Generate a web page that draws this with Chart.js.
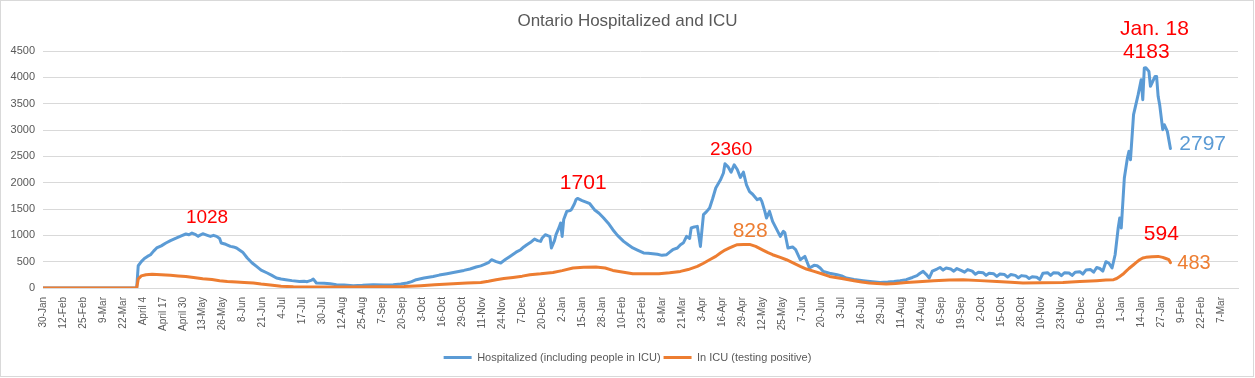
<!DOCTYPE html>
<html>
<head>
<meta charset="utf-8">
<script src="https://cdn.jsdelivr.net/npm/chart.js@4.4.0/dist/chart.umd.min.js"></script>
<style>
html,body{margin:0;padding:0;background:#fff;}
#wrap{position:relative;width:1255px;height:378px;}
canvas{display:block;}
</style>
</head>
<body>
<div id="wrap"><canvas id="c" width="1255" height="378"></canvas></div>
<script>
// ---- DATA ----
const chartTitle = "Ontario Hospitalized and ICU";
const seriesNames = ["Hospitalized (including people in ICU)", "In ICU (testing positive)"];
// x tick labels, one every 13 days starting 30-Jan-2020
const tickLabels = ["30-Jan","12-Feb","25-Feb","9-Mar","22-Mar","April 4","April 17","April 30","13-May","26-May","8-Jun","21-Jun","4-Jul","17-Jul","30-Jul","12-Aug","25-Aug","7-Sep","20-Sep","3-Oct","16-Oct","29-Oct","11-Nov","24-Nov","7-Dec","20-Dec","2-Jan","15-Jan","28-Jan","10-Feb","23-Feb","8-Mar","21-Mar","3-Apr","16-Apr","29-Apr","12-May","25-May","7-Jun","20-Jun","3-Jul","16-Jul","29-Jul","11-Aug","24-Aug","6-Sep","19-Sep","2-Oct","15-Oct","28-Oct","10-Nov","23-Nov","6-Dec","19-Dec","1-Jan","14-Jan","27-Jan","9-Feb","22-Feb","7-Mar"];
const tickStepDays = 13;
const axisMaxDay = 778;
const yTicks = [0,500,1000,1500,2000,2500,3000,3500,4000,4500];

// Hospitalized: day offset since 30-Jan-2020, value
const hospDays = [0,61,62,64,66,68,70,72,74,77,80,83,87,90,93,95,97,99,101,102,104,107,109,111,113,115,116,119,122,124,126,130,133,136,139,142,146,149,152,155,158,162,167,170,172,175,176,178,183,187,191,196,202,208,215,222,228,233,237,240,243,248,254,258,263,268,274,278,282,285,287,290,292,295,298,301,304,308,311,313,315,318,320,322,324,325,327,329,330,331,333,334,336,337,338,339,341,343,344,346,347,348,351,354,356,359,362,365,368,371,374,378,381,384,387,391,394,397,400,403,406,408,410,413,415,417,419,421,422,424,426,428,429,430,432,434,436,438,441,443,444,446,448,450,452,454,456,458,460,462,465,467,468,470,471,473,475,477,480,482,483,485,488,490,493,496,499,502,504,506,508,512,517,520,523,528,534,540,545,550,554,558,562,566,569,571,573,575,577,579,582,584,586,588,591,593,595,598,600,602,605,607,609,612,614,616,619,621,623,626,628,630,633,635,637,640,642,644,647,649,651,654,656,658,661,663,665,668,670,672,675,677,679,682,684,686,688,690,692,694,696,698,700,701,702,704,706,707,708,710,713,715,716,717,718,720,721,724,725,726,727,729,730,732,734];
const hospValues = [0,0,423,500,560,600,632,700,760,800,855,900,950,990,1025,1010,1044,1020,980,1000,1031,1000,980,1000,980,940,855,830,790,780,760,680,570,480,410,340,285,240,190,170,158,140,125,130,120,150,170,95,90,82,63,55,44,50,63,58,63,75,95,120,158,190,220,245,272,300,334,360,399,420,442,480,537,500,475,540,600,680,727,780,822,880,930,900,885,950,1012,990,980,760,900,1012,1150,1234,980,1300,1455,1470,1487,1600,1677,1701,1660,1626,1600,1487,1420,1329,1230,1107,1000,885,820,760,720,665,660,651,640,620,632,680,727,760,822,860,980,940,1139,1160,1170,790,1100,1392,1450,1519,1700,1899,2050,2184,2360,2300,2200,2340,2250,2100,2200,1960,1830,1780,1677,1700,1645,1450,1329,1455,1265,1150,980,1075,1050,760,780,727,537,600,380,430,423,380,315,280,252,230,190,160,139,120,106,115,125,140,158,200,234,280,315,260,190,320,360,390,340,380,360,320,370,330,300,350,320,260,300,290,240,280,270,220,265,255,205,255,240,195,235,225,180,215,205,160,280,290,240,290,285,235,290,285,240,300,310,265,340,350,300,390,370,320,500,470,380,632,1139,1329,1139,2089,2469,2594,2436,3291,3671,3956,3576,4178,4183,4113,3829,4018,4018,3639,3481,3006,3101,2974,2650];

// In ICU: day offset since 30-Jan-2020, value
const icuDays = [0,61,62,64,67,71,77,83,88,93,98,104,110,115,120,126,131,137,142,148,155,163,175,187,202,220,235,246,255,267,276,285,290,295,300,306,312,317,324,332,338,345,352,360,366,371,378,384,392,401,408,415,420,426,430,434,438,441,444,447,450,452,456,460,464,469,472,475,480,484,488,493,497,502,507,512,520,528,533,538,543,549,555,562,570,580,590,599,610,621,630,638,650,664,675,686,692,697,699,701,703,705,707,710,712,714,716,718,722,726,729,731,733,734];
const icuValues = [0,0,171,230,252,260,250,240,230,220,200,177,160,139,125,114,105,95,75,55,35,22,19,19,20,25,30,44,60,82,95,106,130,158,180,201,225,252,270,296,330,380,395,399,380,334,300,272,270,272,290,315,350,410,470,537,600,665,720,760,800,822,825,828,790,714,670,632,580,537,480,410,360,315,270,220,180,139,115,95,85,76,85,106,120,139,150,158,140,125,110,95,100,106,125,139,150,158,180,220,260,315,370,442,490,537,570,582,595,600,582,560,537,483];

// callout texts and where they sit (in data coordinates)
const calloutTexts = ["1028","1701","2360","828","Jan. 18","4183","2797","594","483"];
const calloutDays  = [106.8, 351.7, 448, 460.4, 723.6, 718.3, 739.8, 728.1, 738.5];
const calloutVals  = [1340, 1994, 2626, 1075, 4923, 4473, 2721, 1012, 461];

// ---- STYLE ----
const FONT = '"Liberation Sans", Arial, sans-serif';
const TEXT = '#595959';
const GRID = '#d9d9d9';
const BLUE = '#5b9bd5';
const ORANGE = '#ed7d31';
const RED = '#ff0000';
const calloutStyle = [
  {color:RED,size:19,align:'center'},{color:RED,size:21,align:'center'},{color:RED,size:19,align:'center'},
  {color:ORANGE,size:21,align:'center'},{color:RED,size:21,align:'center'},{color:RED,size:21,align:'center'},
  {color:BLUE,size:21,align:'left'},{color:RED,size:21,align:'center'},{color:ORANGE,size:20,align:'left'}
];

const toPoints = (xs, ys) => xs.map((d,i)=>({x:d,y:ys[i]}));

const calloutPlugin = {
  id:'callouts',
  afterDatasetsDraw(chart){
    const {ctx, scales:{x,y}} = chart;
    calloutTexts.forEach((t,i)=>{
      const s = calloutStyle[i];
      ctx.save();
      ctx.font = s.size + 'px ' + FONT;
      ctx.fillStyle = s.color;
      ctx.textAlign = s.align;
      ctx.textBaseline = 'middle';
      ctx.fillText(t, x.getPixelForValue(calloutDays[i]), y.getPixelForValue(calloutVals[i]));
      ctx.restore();
    });
  }
};
const framePlugin = {
  id:'frame',
  afterDraw(chart){
    const ctx = chart.ctx;
    ctx.save();
    ctx.strokeStyle = GRID; ctx.lineWidth = 1;
    ctx.strokeRect(0.5,0.5,1253,376);
    ctx.restore();
  }
};

new Chart(document.getElementById('c'), {
  type:'line',
  data:{
    datasets:[
      {label:seriesNames[0], data:toPoints(hospDays,hospValues), borderColor:BLUE, backgroundColor:BLUE, borderWidth:3, pointRadius:0, tension:0, order:1, borderJoinStyle:'round', borderCapStyle:'round'},
      {label:seriesNames[1], data:toPoints(icuDays,icuValues), borderColor:ORANGE, backgroundColor:ORANGE, borderWidth:3, pointRadius:0, tension:0, order:0, borderJoinStyle:'round', borderCapStyle:'round'}
    ]
  },
  options:{
    responsive:false, animation:false, devicePixelRatio:1,
    layout:{padding:{left:0,right:0,top:0,bottom:5}},
    plugins:{
      title:{display:true, text:chartTitle, color:TEXT, font:{family:FONT,size:17,weight:'normal'}, padding:{top:11,bottom:19.6}},
      legend:{display:true, position:'bottom',
        labels:{color:TEXT, font:{family:FONT,size:11}, boxWidth:28, boxHeight:3, padding:3,
          generateLabels:(chart)=>Chart.defaults.plugins.legend.labels.generateLabels(chart)
            .map(l=>Object.assign({},l,{lineWidth:0, fillStyle:l.strokeStyle}))
            .sort((a,b)=>a.datasetIndex-b.datasetIndex)}},
      tooltip:{enabled:false}
    },
    scales:{
      x:{type:'linear', min:0, max:axisMaxDay,
        afterBuildTicks:(s)=>{ s.ticks = tickLabels.map((t,i)=>({value:i*tickStepDays})); },
        afterFit:(s)=>{ s.height = 61; },
        ticks:{autoSkip:false, minRotation:90, maxRotation:90, padding:9, color:TEXT, font:{family:FONT,size:10},
          callback:(v)=>tickLabels[Math.round(v/tickStepDays)]},
        grid:{display:false, drawTicks:false},
        border:{display:true, color:GRID, width:1}
      },
      y:{min:0, max:4500,
        afterBuildTicks:(s)=>{ s.ticks = yTicks.map(v=>({value:v})); },
        afterFit:(s)=>{ s.width = 43; },
        ticks:{padding:8, color:TEXT, font:{family:FONT,size:11}, callback:(v)=>String(v)},
        grid:{color:GRID, drawTicks:false},
        border:{display:false}
      },
      yr:{position:'right', display:true,
        afterFit:(s)=>{ s.width = 17; },
        ticks:{display:false}, grid:{display:false, drawTicks:false}, border:{display:false}}
    }
  },
  plugins:[calloutPlugin, framePlugin]
});
</script>
</body>
</html>
